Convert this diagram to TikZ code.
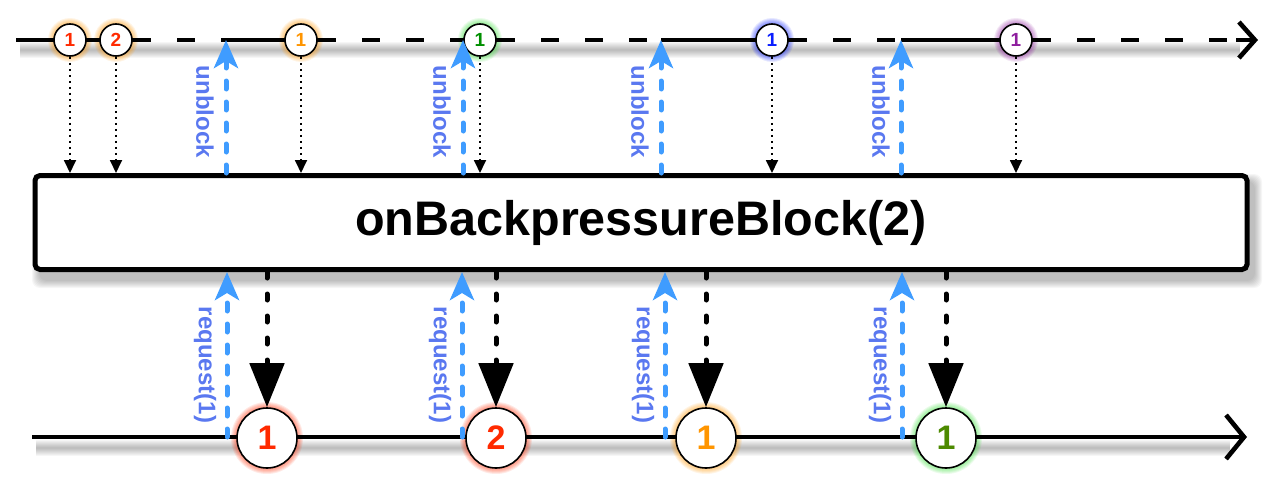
\documentclass[tikz,border=0pt]{standalone}
\usepackage{fontspec}
\setmainfont{Liberation Sans}
\usetikzlibrary{arrows.meta,calc}
\definecolor{rxred}{HTML}{FF2A00}
\definecolor{rxorange}{HTML}{FF9500}
\definecolor{rxgreen}{HTML}{008F00}
\definecolor{rxgreenb}{HTML}{4D8A00}
\definecolor{rxgreenglow}{HTML}{33DD33}
\definecolor{rxblue}{HTML}{0A1EFF}
\definecolor{rxpurple}{HTML}{8E1E9E}
\definecolor{arrblue}{HTML}{3F9CFF}
\definecolor{lblblue}{HTML}{5A78F0}
\newcommand\rxglow[3]{\foreach \k in {1,...,6}{\fill[#2,opacity=0.1] (#1) circle[radius={(#3+\k)*1pt}];}}
\begin{document}
\begin{tikzpicture}[x=1pt,y=-1pt,
  timeline/.style={line width=4.6pt,black},
  whitedash/.style={white,line width=3.8pt,dash pattern=on 26pt off 18pt,dash phase=26pt},
  tcirc/.style={circle,draw,line width=1.6pt,fill=white,minimum size=32pt,inner sep=0pt,font=\bfseries\fontsize{19}{19}\selectfont},
  bcirc/.style={circle,draw,line width=1.6pt,fill=white,minimum size=60pt,inner sep=0pt,font=\bfseries\fontsize{34}{34}\selectfont},
  tdot/.style={line width=1.8pt,dash pattern=on 2pt off 4pt,-{Triangle[length=13pt,width=12pt]}},
  bdot/.style={line width=5pt,line cap=round,dash pattern=on 6pt off 16pt,-{Triangle[length=44pt,width=34pt]}},
  blu/.style={arrblue,line width=5pt,line cap=round,dash pattern=on 8pt off 13pt,-{Stealth[length=28pt,width=24pt,inset=7pt]}},
  lbl/.style={text=lblblue,rotate=-90,inner sep=0pt,font=\bfseries\fontsize{24}{24}\selectfont},
  opbox/.style={draw,line width=5pt,rounded corners=5pt,fill=white,minimum width=1212pt,minimum height=94pt,font=\bfseries\fontsize{48.5}{48.5}\selectfont}
]
\useasboundingbox (0,0) rectangle (1280,490);
% positions
\coordinate (pa1) at (70,40);
\coordinate (pa2) at (116,40);
\coordinate (pa3) at (301,40);
\coordinate (pa4) at (480,40);
\coordinate (pa5) at (772,40);
\coordinate (pa6) at (1016,40);
\coordinate (pb1) at (267,438);
\coordinate (pb2) at (496,438);
\coordinate (pb3) at (706,438);
\coordinate (pb4) at (946,438);
\coordinate (tstart) at (16,40);
\coordinate (tend) at (1258,40);
\coordinate (tdash) at (1236,40);
\coordinate (bstart) at (32,437);
\coordinate (bend) at (1247,437);
\coordinate (u1) at (226,40);
\coordinate (u2) at (463,40);
\coordinate (u3) at (661,40);
\coordinate (u4) at (901,40);
\coordinate (r1) at (227,437);
\coordinate (r2) at (462,437);
\coordinate (r3) at (665,437);
\coordinate (r4) at (902,437);
% shadows
\foreach \k in {1,...,8}{
  \draw[black,opacity=0.035,line width=\k*2pt] (20,50) -- (1240,50);
  \draw[black,opacity=0.035,line width=\k*2pt] (36,448) -- (1230,448);
  \fill[black,opacity=0.035,rounded corners=8pt] (40-\k,182-\k) rectangle (1254+\k,280+\k);
}
% glows
\rxglow{pa1}{rxorange}{16}
\rxglow{pa2}{rxorange}{16}
\rxglow{pa3}{rxorange}{16}
\rxglow{pa4}{rxgreenglow}{16}
\rxglow{pa5}{rxblue}{16}
\rxglow{pa6}{rxpurple}{16}
\rxglow{pb1}{rxred}{30}
\rxglow{pb2}{rxred}{30}
\rxglow{pb3}{rxorange}{30}
\rxglow{pb4}{rxgreenglow}{30}
% timelines
\draw[timeline,-{Straight Barb[length=16pt,width=36pt]}] (tstart) -- (tend);
\draw[timeline,-{Straight Barb[length=18pt,width=44pt]}] (bstart) -- (bend);
% operator box
\node[opbox] (box) at (641,222.5) {onBackpressureBlock(2)};
% source items
\node[tcirc,text=rxred] (a1) at (pa1) {1};
\node[tcirc,text=rxred] (a2) at (pa2) {2};
\node[tcirc,text=rxorange] (a3) at (pa3) {1};
\node[tcirc,text=rxgreen] (a4) at (pa4) {1};
\node[tcirc,text=rxblue] (a5) at (pa5) {1};
\node[tcirc,text=rxpurple] (a6) at (pa6) {1};
% blocked stretches of the source line
\draw[whitedash] (a2.east) -- (u1);
\draw[whitedash] (a3.east) -- (u2 -| a4.west);
\draw[whitedash] (a4.east) -- (u3);
\draw[whitedash] (a5.east) -- (u4);
\draw[whitedash] (a6.east) -- (tdash);
% result items
\node[bcirc,text=rxred] (b1) at (pb1) {1};
\node[bcirc,text=rxred] (b2) at (pb2) {2};
\node[bcirc,text=rxorange] (b3) at (pb3) {1};
\node[bcirc,text=rxgreenb] (b4) at (pb4) {1};
% items into the operator
\foreach \n in {a1,a2,a3,a4,a5,a6}{
  \draw[tdot] (\n) -- (\n |- box.north);
}
% items out of the operator
\foreach \n in {b1,b2,b3,b4}{
  \draw[bdot] (\n |- box.south) -- (\n);
}
% unblock
\foreach \n in {u1,u2,u3,u4}{
  \draw[blu] (\n |- box.north) -- (\n);
}
\node[lbl] (lu1) at (205,112) {unblock};
\node[lbl] (lu2) at (442,112) {unblock};
\node[lbl] (lu3) at (640,112) {unblock};
\node[lbl] (lu4) at (881,112) {unblock};
% request
\foreach \n in {r1,r2,r3,r4}{
  \draw[blu] (\n) -- (\n |- box.south);
}
\node[lbl] (lr1) at (205,365) {request(1)};
\node[lbl] (lr2) at (440,365) {request(1)};
\node[lbl] (lr3) at (643,365) {request(1)};
\node[lbl] (lr4) at (880,365) {request(1)};
\end{tikzpicture}
\end{document}
